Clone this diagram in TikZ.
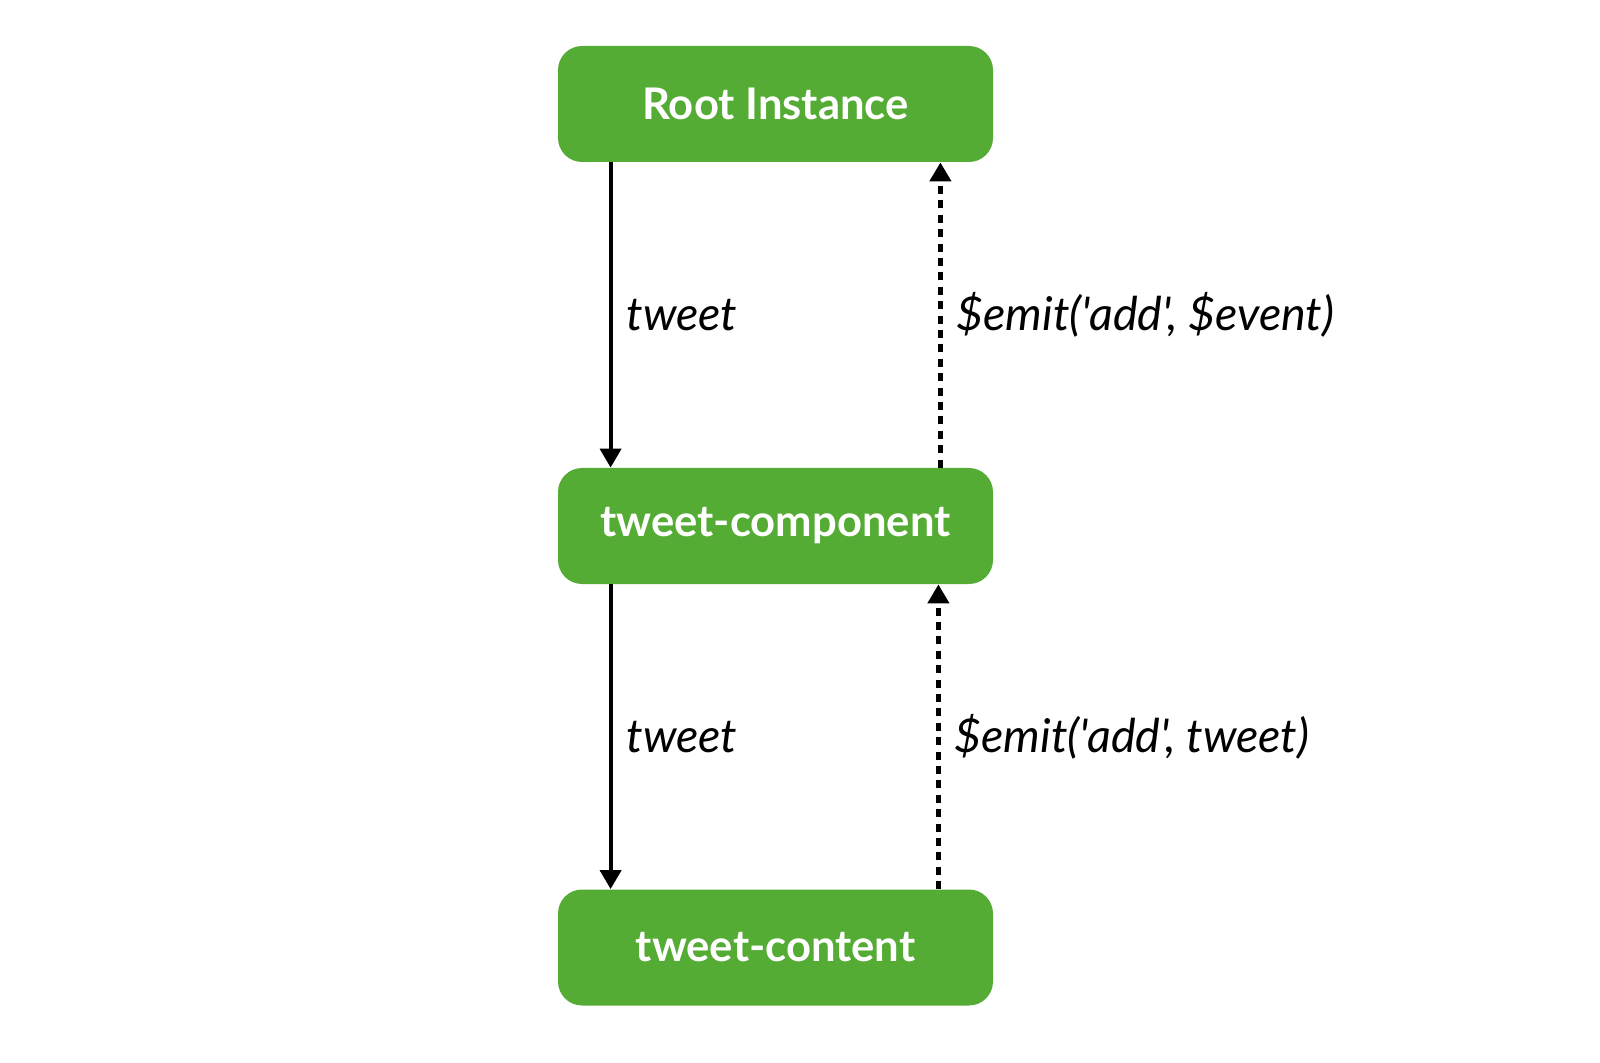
\documentclass[tikz,border=0pt]{standalone}
\usepackage{fontspec}
\setmainfont{Lato}
\newfontfamily\lblfont{Lato}[Ligatures=Common]
\usetikzlibrary{arrows.meta}
\definecolor{boxgreen}{HTML}{55AC34}
\begin{document}
\begin{tikzpicture}[x=0.5pt,y=-0.5pt,
  compbox/.style={fill=boxgreen, rounded corners=12pt, minimum width=217.5pt, minimum height=58pt, inner sep=0pt, text=white, font=\fontsize{21.8}{26}\selectfont\bfseries},
  prop/.style={line width=2pt, -{Triangle[length=9.5pt,width=10.5pt]}},
  emitline/.style={line width=2.2pt, dash pattern=on 4pt off 3.2pt, -{Triangle[length=9.5pt,width=10.5pt]}},
  lbl/.style={midway, right, inner sep=0pt, xshift=7pt, font=\lblfont\fontsize{23.3}{28}\selectfont\itshape}]
\useasboundingbox (0,0) rectangle (1600,1063);
\node[compbox] (root) at (775.5,104) {Root Instance};
\node[compbox] (mid) at (775.5,526) {tweet-component};
\node[compbox] (bot) at (775.5,947.5) {tweet-content};
\draw[prop] ([xshift=26.5pt]root.south west) -- node[lbl] {tweet} ([xshift=26.5pt]mid.north west);
\draw[emitline] ([xshift=-26.5pt]mid.north east) -- node[lbl] {\$emit('add', \$event)} ([xshift=-26.5pt]root.south east);
\draw[prop] ([xshift=26.5pt]mid.south west) -- node[lbl] {tweet} ([xshift=26.5pt]bot.north west);
\draw[emitline] ([xshift=-27.5pt]bot.north east) -- node[lbl] {\$emit('add', tweet)} ([xshift=-27.5pt]mid.south east);
\end{tikzpicture}
\end{document}
